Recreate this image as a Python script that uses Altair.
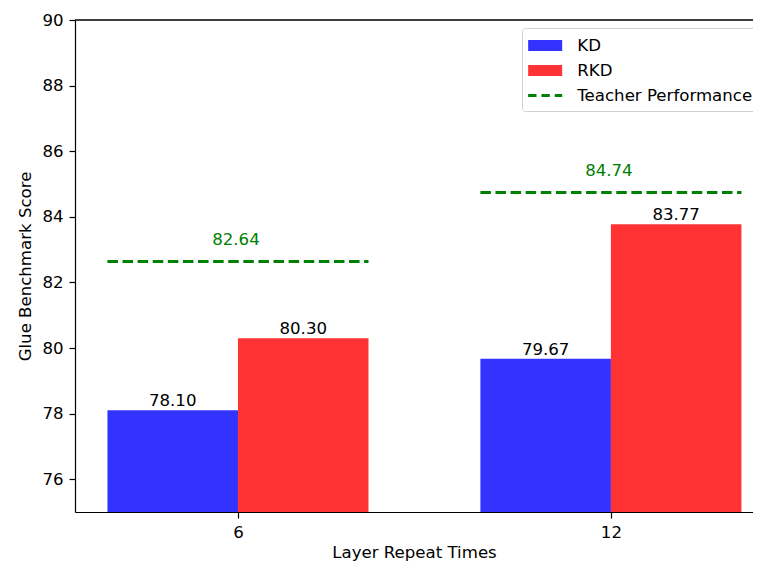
import json
import altair as alt
import pandas as pd

# ---- data ----
layers = ["6", "12"]
kd = [78.10, 79.67]
rkd = [80.30, 83.77]
teacher = [82.64, 84.74]
series_names = ["KD", "RKD", "Teacher Performance"]
series_colors = ["#3333ff", "#ff3333", "#008000"]
y_ticks = [76, 78, 80, 82, 84, 86, 88, 90]

BAR_W = 0.35
FONT = "DejaVu Sans"
FS = 16.6

kd_df = pd.DataFrame({
    "x0": [i - BAR_W for i in range(len(layers))],
    "x1": [float(i) for i in range(len(layers))],
    "xc": [i - BAR_W / 2 for i in range(len(layers))],
    "value": kd,
})
rkd_df = pd.DataFrame({
    "x0": [float(i) for i in range(len(layers))],
    "x1": [i + BAR_W for i in range(len(layers))],
    "xc": [i + BAR_W / 2 for i in range(len(layers))],
    "value": rkd,
})
teach_df = pd.DataFrame({
    "x0": [i - BAR_W for i in range(len(layers))],
    "x1": [i + BAR_W for i in range(len(layers))],
    "xc": [float(i) for i in range(len(layers))],
    "value": teacher,
})
legend_df = pd.DataFrame({"series": series_names})

# legend symbol shapes (unit-square paths): filled patch, patch, dashed line
patch = "M-1,-0.485H2V0.485H-1Z"
dashes = ("M-1,-0.13H-0.265V0.13H-1Z M0.175,-0.13H0.91V0.13H0.175Z "
          "M1.35,-0.13H2V0.13H1.35Z")

x_scale = alt.Scale(domain=[-0.437, 1.381], nice=False, zero=False)
y_scale = alt.Scale(domain=[75, 90], nice=False, zero=False)

x_axis = alt.Axis(values=[0, 1], labelExpr=json.dumps(layers) + "[datum.value]",
                  title="Layer Repeat Times", grid=False, labelPadding=6, titlePadding=4)
y_axis = alt.Axis(values=y_ticks, title="Glue Benchmark Score", grid=False,
                  labelPadding=6, titlePadding=8)


def X(field):
    return alt.X(field, scale=x_scale, axis=x_axis)


def Y(field):
    return alt.Y(field, scale=y_scale, axis=y_axis)


kd_bars = alt.Chart(kd_df).mark_bar(color=series_colors[0]).encode(
    x=X("x0:Q"), x2="x1:Q", y=Y("value:Q"), y2=alt.datum(75))
rkd_bars = alt.Chart(rkd_df).mark_bar(color=series_colors[1]).encode(
    x=X("x0:Q"), x2="x1:Q", y=Y("value:Q"), y2=alt.datum(75))

teach_rule = alt.Chart(teach_df).mark_rule(
    color=series_colors[2], strokeWidth=3, strokeDash=[10.5, 4.6], strokeCap="butt"
).encode(x=X("x0:Q"), x2="x1:Q", y=Y("value:Q"))

top_spine = alt.Chart(teach_df).mark_rule(color="black", strokeWidth=1.2).encode(
    y=alt.datum(y_scale.domain[1]))

label_style = dict(baseline="alphabetic", font=FONT, fontSize=FS)
kd_text = alt.Chart(kd_df).mark_text(dy=-4, color="black", **label_style).encode(
    x=X("xc:Q"), y=Y("value:Q"), text=alt.Text("value:Q", format=".2f"))
rkd_text = alt.Chart(rkd_df).mark_text(dy=-4, color="black", **label_style).encode(
    x=X("xc:Q"), y=Y("value:Q"), text=alt.Text("value:Q", format=".2f"))
teach_text = alt.Chart(teach_df).mark_text(dy=-16.4, dx=-2, color=series_colors[2], **label_style).encode(
    x=X("xc:Q"), y=Y("value:Q"), text=alt.Text("value:Q", format=".2f"))

# legend-only layer (no visible points): color + custom shapes
legend_layer = alt.Chart(legend_df).mark_point(filled=True, size=514, opacity=1).encode(
    color=alt.Color("series:N", scale=alt.Scale(domain=series_names, range=series_colors),
                    legend=alt.Legend(title=None)),
    shape=alt.Shape("series:N", scale=alt.Scale(domain=series_names, range=[patch, patch, dashes]),
                    legend=alt.Legend(title=None)),
).transform_filter("false")

chart = alt.layer(
    kd_bars, rkd_bars, teach_rule, top_spine, kd_text, rkd_text, teach_text, legend_layer
).properties(
    width=678,
    height=492,
    autosize=alt.AutoSizeParams(type="none"),
    padding={"left": 67, "top": 12, "right": 0, "bottom": 50},
).configure(
    font=FONT,
).configure_view(
    stroke=None,
).configure_axis(
    domainColor="black", domainWidth=1.2, tickColor="black", tickWidth=1.2, tickSize=6,
    labelColor="black", labelFont=FONT, labelFontSize=FS,
    titleColor="black", titleFont=FONT, titleFontSize=FS, titleFontWeight="normal",
).configure_legend(
    orient="none", legendX=447, legendY=8,
    symbolSize=514, symbolStrokeWidth=0, symbolOpacity=1,
    labelFont=FONT, labelFontSize=FS, labelColor="black", labelOffset=26.3, labelLimit=400,
    rowPadding=4, padding=6, strokeColor="#d0d0d0", fillColor="white", cornerRadius=3,
)

chart.save("out.html", embed_options={"renderer": "svg", "actions": False})
